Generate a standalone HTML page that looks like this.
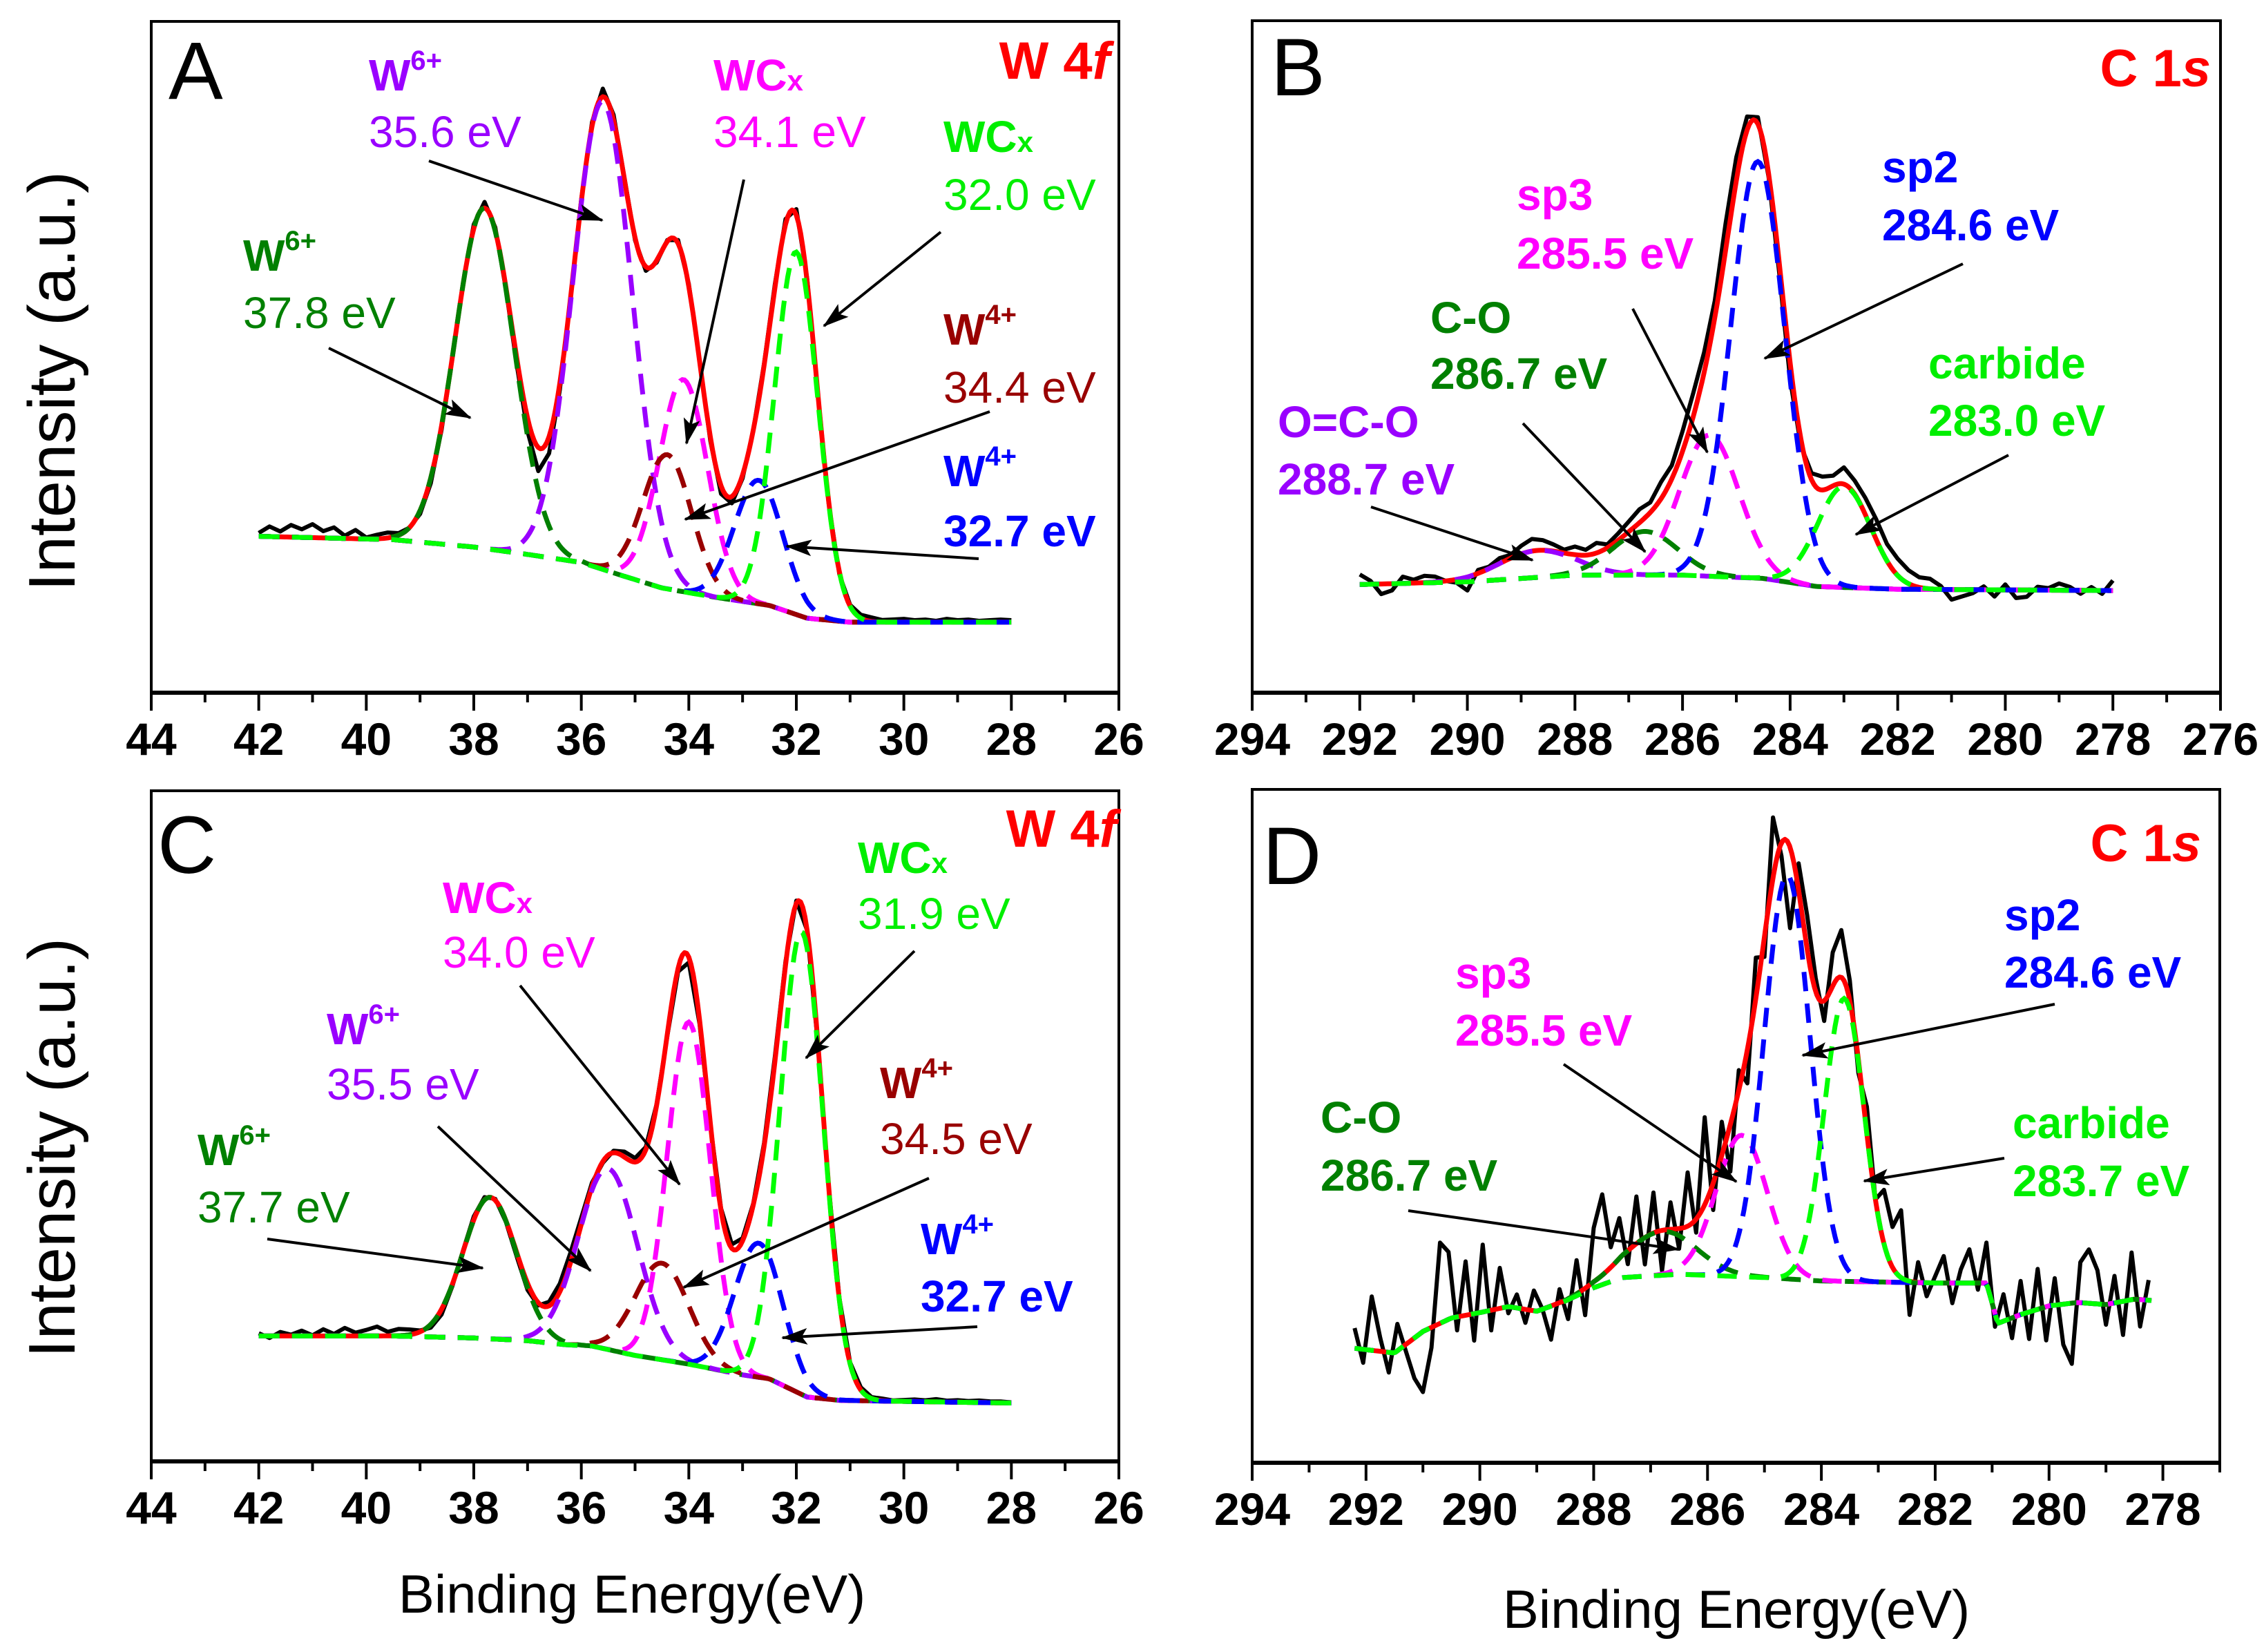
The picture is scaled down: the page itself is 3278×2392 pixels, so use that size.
<!DOCTYPE html>
<html><head><meta charset="utf-8"><style>
html,body{margin:0;padding:0;background:#fff;}
svg{display:block;font-family:"Liberation Sans",Arial,sans-serif;}
</style></head><body>
<svg id="fig" width="3278" height="2392" viewBox="0 0 3278 2392" xmlns="http://www.w3.org/2000/svg">
<defs>
<marker id="ah" markerUnits="userSpaceOnUse" markerWidth="40" markerHeight="30" refX="36" refY="12" orient="auto"><path d="M0,0 L38,12 L0,24 L8,12 Z" fill="#000"/></marker>
</defs>
<rect x="0" y="0" width="3278" height="2392" fill="#fff"/>
<g id="plots"></g>

<!-- Panel A labels -->
<g font-size="64">
<text x="244" y="143" font-size="118">A</text>
<text x="1607" y="114" text-anchor="end" font-size="76" font-weight="bold" fill="#ff0000">W 4<tspan font-style="italic">f</tspan></text>
<text x="534" y="131" font-weight="bold" fill="#9900ff">W<tspan font-size="40" dy="-30">6+</tspan></text>
<text x="534" y="213" fill="#9900ff">35.6 eV</text>
<text x="1033" y="131" font-weight="bold" fill="#ff00ff">WC<tspan font-size="42">x</tspan></text>
<text x="1033" y="213" fill="#ff00ff">34.1 eV</text>
<text x="1366" y="220" font-weight="bold" fill="#00ee00">WC<tspan font-size="42">x</tspan></text>
<text x="1366" y="304" fill="#00ee00">32.0 eV</text>
<text x="352" y="392" font-weight="bold" fill="#008000">W<tspan font-size="40" dy="-30">6+</tspan></text>
<text x="352" y="475" fill="#008000">37.8 eV</text>
<text x="1366" y="499" font-weight="bold" fill="#990000">W<tspan font-size="40" dy="-30">4+</tspan></text>
<text x="1366" y="583" fill="#990000">34.4 eV</text>
<text x="1366" y="704" font-weight="bold" fill="#0000ff">W<tspan font-size="40" dy="-30">4+</tspan></text>
<text x="1366" y="791" font-weight="bold" fill="#0000ff">32.7 eV</text>
<g stroke="#000" stroke-width="4" marker-end="url(#ah)">
<line x1="621" y1="233" x2="872" y2="319"/>
<line x1="1077" y1="260" x2="994" y2="642"/>
<line x1="1362" y1="336" x2="1193" y2="472"/>
<line x1="476" y1="504" x2="681" y2="605"/>
<line x1="1433" y1="596" x2="992" y2="752"/>
<line x1="1417" y1="809" x2="1139" y2="791"/>
</g>
</g>

<!-- Panel C labels -->
<g font-size="64">
<text x="228" y="1264" font-size="118">C</text>
<text x="1617" y="1226" text-anchor="end" font-size="76" font-weight="bold" fill="#ff0000">W 4<tspan font-style="italic">f</tspan></text>
<text x="1242" y="1264" font-weight="bold" fill="#00ee00">WC<tspan font-size="42">x</tspan></text>
<text x="1242" y="1345" fill="#00ee00">31.9 eV</text>
<text x="641" y="1322" font-weight="bold" fill="#ff00ff">WC<tspan font-size="42">x</tspan></text>
<text x="641" y="1401" fill="#ff00ff">34.0 eV</text>
<text x="473" y="1512" font-weight="bold" fill="#9900ff">W<tspan font-size="40" dy="-30">6+</tspan></text>
<text x="473" y="1592" fill="#9900ff">35.5 eV</text>
<text x="286" y="1687" font-weight="bold" fill="#008000">W<tspan font-size="40" dy="-30">6+</tspan></text>
<text x="286" y="1770" fill="#008000">37.7 eV</text>
<text x="1274" y="1590" font-weight="bold" fill="#990000">W<tspan font-size="40" dy="-30">4+</tspan></text>
<text x="1274" y="1671" fill="#990000">34.5 eV</text>
<text x="1333" y="1816" font-weight="bold" fill="#0000ff">W<tspan font-size="40" dy="-30">4+</tspan></text>
<text x="1333" y="1899" font-weight="bold" fill="#0000ff">32.7 eV</text>
<g stroke="#000" stroke-width="4" marker-end="url(#ah)">
<line x1="387" y1="1794" x2="699" y2="1836"/>
<line x1="634" y1="1631" x2="855" y2="1840"/>
<line x1="753" y1="1427" x2="984" y2="1715"/>
<line x1="1324" y1="1377" x2="1167" y2="1532"/>
<line x1="1345" y1="1706" x2="990" y2="1864"/>
<line x1="1415" y1="1921" x2="1133" y2="1937"/>
</g>
</g>

<!-- Panel B labels -->
<g font-size="64" font-weight="bold">
<text x="1840" y="138" font-size="118" font-weight="normal">B</text>
<text x="3201" y="125" text-anchor="end" font-size="76" fill="#ff0000">C 1<tspan font-style="italic">s</tspan></text>
<text x="2196" y="304" fill="#ff00ff">sp3</text>
<text x="2196" y="389" fill="#ff00ff">285.5 eV</text>
<text x="2725" y="264" fill="#0000ff">sp2</text>
<text x="2725" y="348" fill="#0000ff">284.6 eV</text>
<text x="2071" y="482" fill="#008000">C-O</text>
<text x="2071" y="563" fill="#008000">286.7 eV</text>
<text x="1850" y="633" fill="#9900ff">O=C-O</text>
<text x="1850" y="716" fill="#9900ff">288.7 eV</text>
<text x="2792" y="548" fill="#00ee00">carbide</text>
<text x="2792" y="631" fill="#00ee00">283.0 eV</text>
<g stroke="#000" stroke-width="4" marker-end="url(#ah)">
<line x1="2364" y1="447" x2="2472" y2="655"/>
<line x1="2842" y1="382" x2="2555" y2="519"/>
<line x1="2205" y1="613" x2="2382" y2="799"/>
<line x1="2908" y1="659" x2="2687" y2="774"/>
<line x1="1985" y1="734" x2="2219" y2="811"/>
</g>
</g>

<!-- Panel D labels -->
<g font-size="64" font-weight="bold">
<text x="1828" y="1280" font-size="118" font-weight="normal">D</text>
<text x="3187" y="1247" text-anchor="end" font-size="76" fill="#ff0000">C 1<tspan font-style="italic">s</tspan></text>
<text x="2902" y="1347" fill="#0000ff">sp2</text>
<text x="2902" y="1430" fill="#0000ff">284.6 eV</text>
<text x="2107" y="1431" fill="#ff00ff">sp3</text>
<text x="2107" y="1514" fill="#ff00ff">285.5 eV</text>
<text x="1912" y="1640" fill="#008000">C-O</text>
<text x="1912" y="1724" fill="#008000">286.7 eV</text>
<text x="2914" y="1648" fill="#00ee00">carbide</text>
<text x="2914" y="1732" fill="#00ee00">283.7 eV</text>
<g stroke="#000" stroke-width="4" marker-end="url(#ah)">
<line x1="2264" y1="1541" x2="2514" y2="1711"/>
<line x1="2975" y1="1454" x2="2610" y2="1528"/>
<line x1="2039" y1="1753" x2="2430" y2="1809"/>
<line x1="2902" y1="1677" x2="2699" y2="1710"/>
</g>
</g>

<!-- Axis titles -->
<text transform="translate(108,552) rotate(-90)" text-anchor="middle" font-size="96">Intensity (a.u.)</text>
<text transform="translate(108,1662) rotate(-90)" text-anchor="middle" font-size="96">Intensity (a.u.)</text>
<text x="915" y="2335" text-anchor="middle" font-size="78">Binding Energy(eV)</text>
<text x="2514" y="2357" text-anchor="middle" font-size="78">Binding Energy(eV)</text>
</svg>

<script>
// ===== Panel A (W 4f) =====
const bgA_e=[42,39.5,38,37,36,35.3,34.5,33.5,32.5,31.8,31,28];
const bgA_v=[23.3,22.8,21.7,20.6,19.4,17.6,15.6,14.2,13,11.1,10.5,10.5];
const pkA_center=[37.8,35.6,34.1,34.4,32.7,32.0];
const pkA_amp=[50.7,69.7,31.6,20,18.4,54];
const pkA_sigma=[0.55,0.55,0.45,0.45,0.45,0.4];
const noiseA=[0.5,1.5,0.8,1.8,1.2,2.0,1.0,1.6,0.4,1.3,0.2,0.6,0.8,0.3,0.0,-0.5,-0.8,-0.6,-0.2,0.3,0.6,0.9,0.5,-0.3,-1.0,-2.0,-3.5,-2.5,-1.0,0.0,0.4,0.6,1.2,0.8,0.3,-0.4,-0.6,-0.3,0.2,0.5,0.4,0.0,-0.6,-1.2,-1.0,-0.5,0.0,0.3,0.6,0.8,0.9,0.5,0.0,-0.3,-0.4,0.2,0.5,0.6,0.3,0.4,0.5,0.3,0.4,0.2,0.5,0.3,0.4,0.2,0.3,0.4,0.3];
// ===== Panel C (W 4f) =====
const bgC_e=[42,39.5,38,37,36.3,35.8,35,34,33,32.5,31.8,31.2,28];
const bgC_v=[18.7,18.7,18.4,18,17.4,17.2,15.8,14.5,12.9,12.3,9.6,9.1,8.7];
const pkC_center=[37.7,35.5,34.0,34.5,32.7,31.9];
const pkC_amp=[21.1,27,51,14.4,20,69];
const pkC_sigma=[0.5,0.55,0.4,0.5,0.45,0.4];
const noiseC=[0.4,-0.3,0.6,0.2,0.8,0.1,1.0,0.3,1.2,0.5,0.9,1.4,0.6,1.0,0.8,0.2,-0.5,-0.8,-0.3,0.2,0.5,0.4,0.2,-0.2,-0.6,-1.0,-0.4,0.6,1.2,1.5,1.0,0.6,-0.2,0.3,0.8,0.6,0.4,0.2,-0.3,-0.5,-0.8,-0.6,-0.2,0.3,0.6,0.4,0.2,0.5,0.8,0.6,0.4,0.0,-0.2,0.1,0.3,0.2,0.4,0.2,0.3,0.1,0.2,0.3,0.2,0.4,0.2,0.3,0.2,0.3,0.2,0.2,0.1];
// ===== Panel B (C 1s) =====
const bgB_e=[292,290,288,286,284.5,283.5,282,278];
const bgB_v=[16.1,16.5,17.5,17.5,17,15.8,15.4,15.2];
const pkB_center=[288.7,286.7,285.5,284.6,283.0];
const pkB_amp=[4,6.5,21,62,15];
const pkB_sigma=[0.7,0.6,0.55,0.5,0.5];
const noiseB=[1.5,0.5,-1.5,-1,1,0.5,1,0.8,0,-0.5,-2,0.5,0.3,0.8,0.5,1.2,1.8,1.5,1,0.5,1.2,0.8,1.5,0.5,1,1.5,2,1.5,2.5,2,3,3.5,3,2.5,4,3.5,2,1,-0.5,-1.5,-2.5,-1,1,2,1.5,2.5,2,2.5,3,2.5,2.5,2,1.5,1.5,0.5,-1.5,-1,-0.5,0.5,-1,0.8,-1.2,-1,0.5,0.3,1,0.5,-0.5,0.5,-0.5,1.5];
// ===== Panel D (C 1s) =====
const bgD_e=[292.2,291.5,291,290.5,290,289.5,289,288.5,288,287.5,286.5,285,284,282,281.1,280.9,280.5,280,279.5,279,278.5,278.2];
const bgD_v=[17,16.3,19.5,21.5,22.3,23.2,22.5,24,26,27.5,28,27.5,27,26.7,26.7,20.7,22,23.3,23.8,23.5,24.3,24.1];
const pkD_center=[286.8,285.4,284.6,283.6];
const pkD_amp=[6.5,21,60,42];
const pkD_sigma=[0.6,0.45,0.4,0.35];
const noiseD=[3,-2,8,2,-3,4,-1,-6,-9,-3,12,10,-2,8,-4,10,-3,6,-1,2,-2,3,0,-5,2,-3,5,-4,8,12,3,6,-2,7,-4,6,-6,4,-3,8,-2,13,-4,5,-7,3,-5,6,-3,9,-2,-12,4,5,2,-3,5,7,3,-2,4,0,8,6,10,-5,3,-2,1,4,-3,2,5,-1,6,-2,4,-3,5,-4,6,-5,4,-6,-9,6,8,5,-3,4,-5,7,-4,3];
// tick labels
const ticksW=[44,42,40,38,36,34,32,30,28,26];
const ticksB=[294,292,290,288,286,284,282,280,278,276];
const ticksD=[294,292,290,288,286,284,282,280,278];

const NS='http://www.w3.org/2000/svg';
const root=document.getElementById('plots');
function el(tag,attrs,parent){const e=document.createElementNS(NS,tag);for(const k in attrs)e.setAttribute(k,attrs[k]);(parent||root).appendChild(e);return e;}

const panels=[
 {id:'a',L:219,R:1620,T:31,B:1003,eL:44,eR:26,e0:42,e1:28,bgE:bgA_e,bgV:bgA_v,pc:pkA_center,pa:pkA_amp,ps:pkA_sigma,noise:noiseA,noiseStep:0.2,cols:['#008000','#9900ff','#ff00ff','#990000','#0000ff','#00ff00'],ticks:ticksW,dash:'30 18'},
 {id:'b',L:1813,R:3215,T:30,B:1003,eL:294,eR:276,e0:292,e1:278,bgE:bgB_e,bgV:bgB_v,pc:pkB_center,pa:pkB_amp,ps:pkB_sigma,noise:noiseB,noiseStep:0.2,cols:['#9900ff','#008000','#ff00ff','#0000ff','#00ff00'],ticks:ticksB,dash:'28 18'},
 {id:'c',L:219,R:1620,T:1145,B:2116,eL:44,eR:26,e0:42,e1:28,bgE:bgC_e,bgV:bgC_v,pc:pkC_center,pa:pkC_amp,ps:pkC_sigma,noise:noiseC,noiseStep:0.2,cols:['#008000','#9900ff','#ff00ff','#990000','#0000ff','#00ff00'],ticks:ticksW,dash:'30 18'},
 {id:'d',L:1813,R:3214,T:1143,B:2118,eL:294,eR:277,e0:292.2,e1:278.2,bgE:bgD_e,bgV:bgD_v,pc:pkD_center,pa:pkD_amp,ps:pkD_sigma,noise:noiseD,noiseStep:0.15,cols:['#008000','#ff00ff','#0000ff','#00ff00'],ticks:ticksD,dash:'28 18'}
];

function xs(p,e){return p.L+(p.eL-e)/(p.eL-p.eR)*(p.R-p.L);}
function ys(p,v){return p.B-v/100*(p.B-p.T);}
function bgAt(p,e){const E=p.bgE,V=p.bgV;for(let i=0;i<E.length-1;i++){if(e<=E[i]&&e>=E[i+1]){const t=(E[i]-e)/(E[i]-E[i+1]);return V[i]+t*(V[i+1]-V[i]);}}return e>E[0]?V[0]:V[V.length-1];}
function comp(p,k,e){const d=e-p.pc[k];return p.pa[k]*Math.exp(-d*d/(2*p.ps[k]*p.ps[k]));}
function fitAt(p,e){let s=bgAt(p,e);for(let k=0;k<p.pc.length;k++)s+=comp(p,k,e);return s;}
function pathFrom(pts){return pts.map((q,i)=>(i?'L':'M')+q[0].toFixed(1)+','+q[1].toFixed(1)).join(' ');}

panels.forEach(p=>{
  const g=el('g',{});
  
  
  const raw=[];const n=Math.round((p.e0-p.e1)/p.noiseStep);
  for(let i=0;i<=n;i++){const e=p.e0-i*p.noiseStep;raw.push([xs(p,e),ys(p,fitAt(p,e)+(p.noise[i]||0))]);}
  const rl=el('path',{d:pathFrom(raw),fill:'none',stroke:'#000','stroke-width':6,'stroke-linejoin':'round'},g);
  
  
  const fit=[];const m=Math.round((p.e0-p.e1)/0.04);
  for(let i=0;i<=m;i++){const e=p.e0-i*0.04;fit.push([xs(p,e),ys(p,fitAt(p,e))]);}
  const fl=el('path',{d:pathFrom(fit),fill:'none',stroke:'#ff0000','stroke-width':7,'stroke-linejoin':'round'},g);
  
  
  for(let k=0;k<p.pc.length;k++){
    const pts=[];
    for(let i=0;i<=m;i++){const e=p.e0-i*0.04;pts.push([xs(p,e),ys(p,bgAt(p,e)+comp(p,k,e))]);}
    const cl=el('path',{d:pathFrom(pts),fill:'none',stroke:p.cols[k],'stroke-width':7,'stroke-dasharray':p.dash},g);
    
    
  }
  const fr=el('rect',{x:p.L,y:p.T,width:p.R-p.L,height:p.B-p.T,fill:'none',stroke:'#000','stroke-width':4},g);
  
  
  const ax=el('line',{x1:p.L-2,x2:p.R+2,y1:p.B,y2:p.B,stroke:'#000','stroke-width':6},g);
  
  
  for(let e=Math.ceil(Math.min(p.eL,p.eR));e<=Math.max(p.eL,p.eR);e+=1){
    const major=(e%2===0);
    const x=xs(p,e);
    const t=el('line',{x1:x,x2:x,y1:p.B,y2:p.B+(major?26:14),stroke:'#000','stroke-width':4},g);
    
    
  }
  p.ticks.forEach(v=>{
    const tl=el('text',{x:xs(p,v),y:p.B+90,'text-anchor':'middle','font-size':66,'font-weight':'bold'},g);
    tl.textContent=String(v);
    
    
  });
});
</script>
</body></html>
